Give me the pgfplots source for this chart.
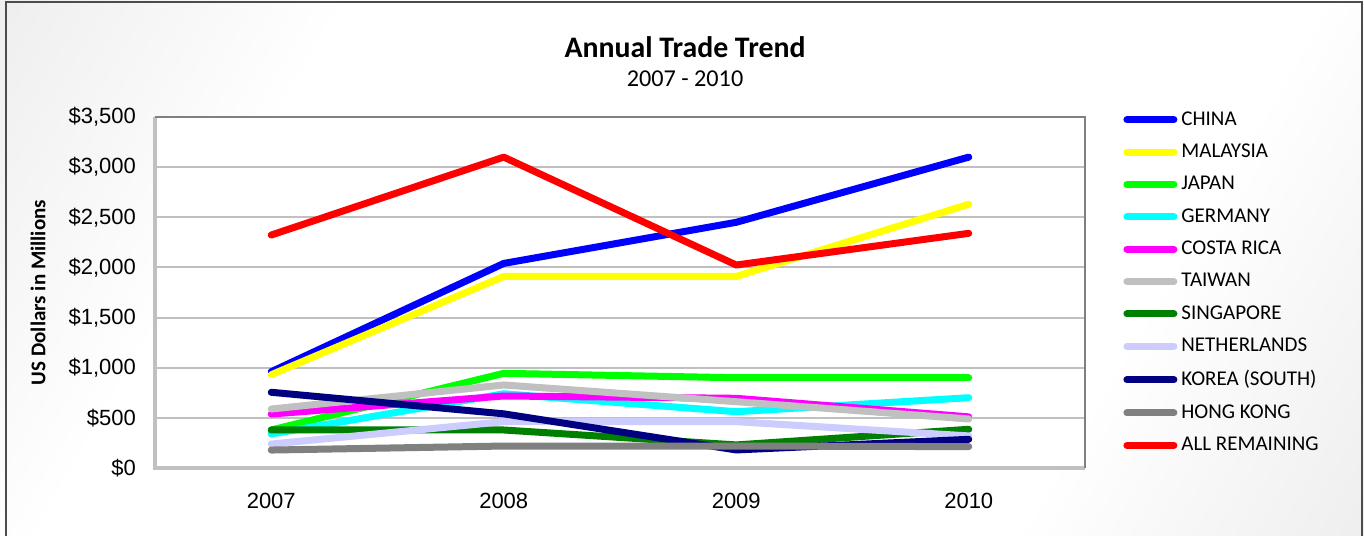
\documentclass[border=0pt]{standalone}
\usepackage{pgfplots}
\pgfplotsset{compat=1.18}
\usepackage{fontspec}
\setmainfont{Liberation Sans}
\newfontfamily\calibri{Carlito}

\definecolor{cChina}{HTML}{0000FF}
\definecolor{cMalaysia}{HTML}{FFFF00}
\definecolor{cJapan}{HTML}{00FF00}
\definecolor{cGermany}{HTML}{00FFFF}
\definecolor{cCosta}{HTML}{FF00FF}
\definecolor{cTaiwan}{HTML}{C0C0C0}
\definecolor{cSingapore}{HTML}{008000}
\definecolor{cNether}{HTML}{CCCCFF}
\definecolor{cKorea}{HTML}{000080}
\definecolor{cHongKong}{HTML}{808080}
\definecolor{cRest}{HTML}{FF0000}
\definecolor{gridgray}{HTML}{C0C0C0}
\definecolor{bggray}{HTML}{DCDCDC}

\pgfdeclareverticalshading{bgshade}{100bp}{color(0bp)=(bggray); color(30bp)=(white); color(70bp)=(white); color(100bp)=(bggray)}

\begin{document}
\begin{tikzpicture}
\useasboundingbox (0,0) rectangle (682pt,267.5pt);
\shade[shading=bgshade, shading angle=60] (0,0) rectangle (682pt,267.5pt);
\draw[black!70, line width=1pt] (2.8pt,-2pt) -- (2.8pt,266.5pt) -- (681pt,266.5pt) -- (681pt,-2pt);

\node[font=\calibri\bfseries\fontsize{14.9}{17}\selectfont] at (342.5pt,244pt) {Annual Trade Trend};
\node[font=\calibri\fontsize{12.1}{14}\selectfont] at (342.5pt,228pt) {2007 - 2010};
\node[rotate=90, font=\calibri\bfseries\fontsize{10.5}{12}\selectfont] at (19pt,121.25pt) {US Dollars in Millions};

\begin{axis}[
    at={(77.5pt,33.5pt)}, anchor=south west,
    scale only axis, width=465pt, height=175.5pt,
    xmin=-0.5, xmax=3.5, ymin=0, ymax=3500,
    xtick={0,1,2,3}, xticklabels={2007,2008,2009,2010},
    ytick={0,500,1000,1500,2000,2500,3000,3500},
    yticklabels={{\$0},{\$500},{\$1,000},{\$1,500},{\$2,000},{\$2,500},{\$3,000},{\$3,500}},
    major tick length=0pt,
    axis background/.style={fill=white},
    ymajorgrids, grid style={color=gridgray, line width=1pt},
    axis line style={draw=none},
    tick label style={font=\fontsize{11}{13}\selectfont},
    yticklabel style={xshift=-6pt},
    xticklabel style={yshift=-9pt},
    every axis plot/.append style={line width=3.5pt, line cap=round, line join=round},
    legend image code/.code={\draw[#1] (0pt,0pt) -- (23.5pt,0pt);},
    legend cell align=left,
    legend style={at={(1,1)}, anchor=north west, xshift=19pt, yshift=5pt,
        draw=none, fill=none, inner sep=0pt, row sep=3.9pt,
        font=\calibri\fontsize{10.5}{12}\selectfont},
    after end axis/.code={
        \draw[gridgray, line width=2pt] (rel axis cs:0,1) -- (rel axis cs:0,0) -- (rel axis cs:1,0);
        \draw[black!50, line width=0.6pt] (rel axis cs:0,1) -- (rel axis cs:1,1) -- (rel axis cs:1,0);
    },
]
\addplot[cChina] coordinates {(0,960)(1,2040)(2,2450)(3,3100)};
\addplot[cMalaysia] coordinates {(0,930)(1,1910)(2,1910)(3,2630)};
\addplot[cJapan] coordinates {(0,379)(1,944)(2,900)(3,900)};
\addplot[cGermany] coordinates {(0,339)(1,740)(2,561)(3,701)};
\addplot[cCosta] coordinates {(0,538)(1,718)(2,695)(3,510)};
\addplot[cTaiwan] coordinates {(0,588)(1,828)(2,661)(3,489)};
\addplot[cSingapore] coordinates {(0,379)(1,379)(2,230)(3,386)};
\addplot[cNether] coordinates {(0,239)(1,462)(2,462)(3,320)};
\addplot[cKorea] coordinates {(0,755)(1,540)(2,180)(3,286)};
\addplot[cHongKong] coordinates {(0,179)(1,219)(2,219)(3,213)};
\addplot[cRest] coordinates {(0,2323)(1,3100)(2,2024)(3,2340)};
\legend{CHINA,MALAYSIA,JAPAN,GERMANY,COSTA RICA,TAIWAN,SINGAPORE,NETHERLANDS,KOREA (SOUTH),HONG KONG,ALL REMAINING}
\end{axis}
\end{tikzpicture}
\end{document}
